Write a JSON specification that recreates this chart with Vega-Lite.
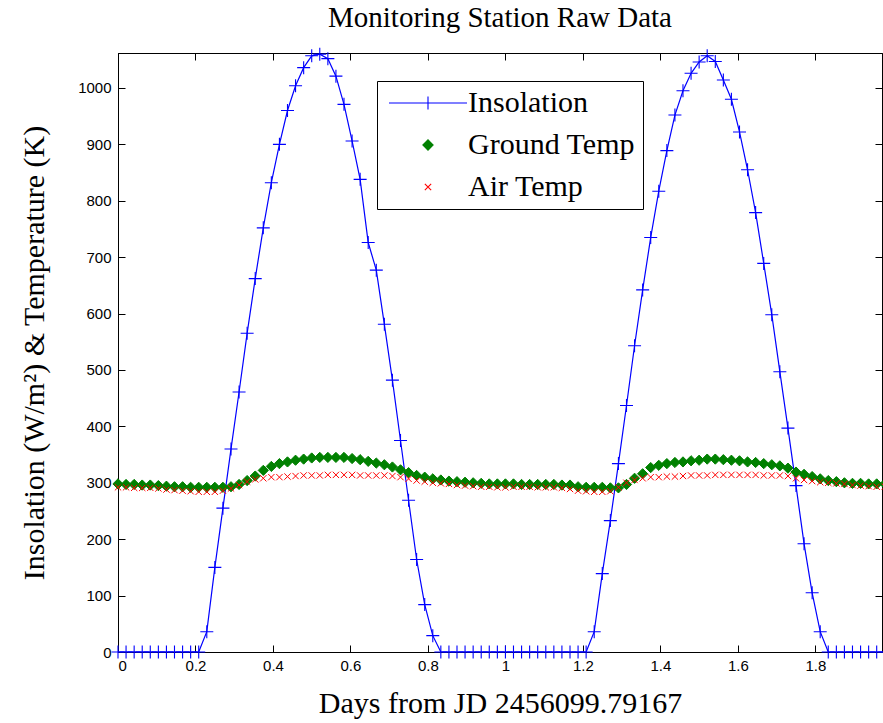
{
  "$schema": "https://vega.github.io/schema/vega-lite/v6.json",
  "width": 764,
  "height": 599,
  "autosize": {"type": "none"},
  "padding": {"left": 118, "top": 53, "right": 1, "bottom": 71},
  "background": "white",
  "title": {
    "text": "Monitoring Station Raw Data",
    "font": "Liberation Serif",
    "fontSize": 29,
    "fontWeight": "normal",
    "color": "black",
    "anchor": "middle",
    "baseline": "bottom",
    "offset": -17
  },
  "data": {
    "values": [
      {"t": 0, "Insolation": 0, "Ground Temp": 298, "Air Temp": 292},
      {"t": 0.0208, "Insolation": 0, "Ground Temp": 297, "Air Temp": 292},
      {"t": 0.0417, "Insolation": 0, "Ground Temp": 297, "Air Temp": 291},
      {"t": 0.0625, "Insolation": 0, "Ground Temp": 296, "Air Temp": 291},
      {"t": 0.0833, "Insolation": 0, "Ground Temp": 296, "Air Temp": 291},
      {"t": 0.1042, "Insolation": 0, "Ground Temp": 295, "Air Temp": 290},
      {"t": 0.125, "Insolation": 0, "Ground Temp": 294, "Air Temp": 288},
      {"t": 0.1458, "Insolation": 0, "Ground Temp": 293, "Air Temp": 287},
      {"t": 0.1667, "Insolation": 0, "Ground Temp": 293, "Air Temp": 286},
      {"t": 0.1875, "Insolation": 0, "Ground Temp": 292, "Air Temp": 285},
      {"t": 0.2083, "Insolation": 0, "Ground Temp": 292, "Air Temp": 284},
      {"t": 0.2292, "Insolation": 36, "Ground Temp": 292, "Air Temp": 284},
      {"t": 0.25, "Insolation": 150, "Ground Temp": 292, "Air Temp": 284},
      {"t": 0.2708, "Insolation": 255, "Ground Temp": 292, "Air Temp": 286},
      {"t": 0.2917, "Insolation": 360, "Ground Temp": 293, "Air Temp": 290},
      {"t": 0.3125, "Insolation": 461, "Ground Temp": 297, "Air Temp": 296},
      {"t": 0.3333, "Insolation": 565, "Ground Temp": 304, "Air Temp": 302},
      {"t": 0.3542, "Insolation": 662, "Ground Temp": 312, "Air Temp": 306},
      {"t": 0.375, "Insolation": 752, "Ground Temp": 322, "Air Temp": 308},
      {"t": 0.3958, "Insolation": 832, "Ground Temp": 329, "Air Temp": 310},
      {"t": 0.4167, "Insolation": 900, "Ground Temp": 334, "Air Temp": 310},
      {"t": 0.4375, "Insolation": 960, "Ground Temp": 337, "Air Temp": 311},
      {"t": 0.4583, "Insolation": 1004, "Ground Temp": 340, "Air Temp": 312},
      {"t": 0.4792, "Insolation": 1036, "Ground Temp": 342, "Air Temp": 313},
      {"t": 0.5, "Insolation": 1057, "Ground Temp": 344, "Air Temp": 313},
      {"t": 0.5208, "Insolation": 1060, "Ground Temp": 345, "Air Temp": 313},
      {"t": 0.5417, "Insolation": 1052, "Ground Temp": 345, "Air Temp": 314},
      {"t": 0.5625, "Insolation": 1021, "Ground Temp": 345, "Air Temp": 314},
      {"t": 0.5833, "Insolation": 971, "Ground Temp": 345, "Air Temp": 314},
      {"t": 0.6042, "Insolation": 906, "Ground Temp": 343, "Air Temp": 314},
      {"t": 0.625, "Insolation": 838, "Ground Temp": 341, "Air Temp": 313},
      {"t": 0.6458, "Insolation": 726, "Ground Temp": 338, "Air Temp": 313},
      {"t": 0.6667, "Insolation": 677, "Ground Temp": 335, "Air Temp": 313},
      {"t": 0.6875, "Insolation": 581, "Ground Temp": 332, "Air Temp": 313},
      {"t": 0.7083, "Insolation": 482, "Ground Temp": 328, "Air Temp": 312},
      {"t": 0.7292, "Insolation": 375, "Ground Temp": 323, "Air Temp": 310},
      {"t": 0.75, "Insolation": 269, "Ground Temp": 318, "Air Temp": 307},
      {"t": 0.7708, "Insolation": 164, "Ground Temp": 313, "Air Temp": 304},
      {"t": 0.7917, "Insolation": 84, "Ground Temp": 310, "Air Temp": 302},
      {"t": 0.8125, "Insolation": 29, "Ground Temp": 307, "Air Temp": 300},
      {"t": 0.8333, "Insolation": 0, "Ground Temp": 305, "Air Temp": 299},
      {"t": 0.8542, "Insolation": 0, "Ground Temp": 303, "Air Temp": 298},
      {"t": 0.875, "Insolation": 0, "Ground Temp": 302, "Air Temp": 296},
      {"t": 0.8958, "Insolation": 0, "Ground Temp": 301, "Air Temp": 295},
      {"t": 0.9167, "Insolation": 0, "Ground Temp": 300, "Air Temp": 294},
      {"t": 0.9375, "Insolation": 0, "Ground Temp": 299, "Air Temp": 293},
      {"t": 0.9583, "Insolation": 0, "Ground Temp": 298, "Air Temp": 293},
      {"t": 0.9792, "Insolation": 0, "Ground Temp": 298, "Air Temp": 292},
      {"t": 1, "Insolation": 0, "Ground Temp": 298, "Air Temp": 292},
      {"t": 1.0208, "Insolation": 0, "Ground Temp": 298, "Air Temp": 293},
      {"t": 1.0417, "Insolation": 0, "Ground Temp": 297, "Air Temp": 293},
      {"t": 1.0625, "Insolation": 0, "Ground Temp": 297, "Air Temp": 293},
      {"t": 1.0833, "Insolation": 0, "Ground Temp": 297, "Air Temp": 292},
      {"t": 1.1042, "Insolation": 0, "Ground Temp": 297, "Air Temp": 292},
      {"t": 1.125, "Insolation": 0, "Ground Temp": 297, "Air Temp": 292},
      {"t": 1.1458, "Insolation": 0, "Ground Temp": 296, "Air Temp": 291},
      {"t": 1.1667, "Insolation": 0, "Ground Temp": 296, "Air Temp": 289},
      {"t": 1.1875, "Insolation": 0, "Ground Temp": 293, "Air Temp": 286},
      {"t": 1.2083, "Insolation": 0, "Ground Temp": 292, "Air Temp": 285},
      {"t": 1.2292, "Insolation": 36, "Ground Temp": 292, "Air Temp": 284},
      {"t": 1.25, "Insolation": 139, "Ground Temp": 292, "Air Temp": 284},
      {"t": 1.2708, "Insolation": 233, "Ground Temp": 291, "Air Temp": 285},
      {"t": 1.2917, "Insolation": 334, "Ground Temp": 291, "Air Temp": 292},
      {"t": 1.3125, "Insolation": 437, "Ground Temp": 297, "Air Temp": 300},
      {"t": 1.3333, "Insolation": 543, "Ground Temp": 308, "Air Temp": 305},
      {"t": 1.3542, "Insolation": 642, "Ground Temp": 316, "Air Temp": 308},
      {"t": 1.375, "Insolation": 735, "Ground Temp": 327, "Air Temp": 310},
      {"t": 1.3958, "Insolation": 817, "Ground Temp": 331, "Air Temp": 310},
      {"t": 1.4167, "Insolation": 889, "Ground Temp": 334, "Air Temp": 311},
      {"t": 1.4375, "Insolation": 952, "Ground Temp": 336, "Air Temp": 311},
      {"t": 1.4583, "Insolation": 995, "Ground Temp": 337, "Air Temp": 312},
      {"t": 1.4792, "Insolation": 1026, "Ground Temp": 339, "Air Temp": 313},
      {"t": 1.5, "Insolation": 1046, "Ground Temp": 340, "Air Temp": 313},
      {"t": 1.5208, "Insolation": 1057, "Ground Temp": 342, "Air Temp": 313},
      {"t": 1.5417, "Insolation": 1047, "Ground Temp": 342, "Air Temp": 314},
      {"t": 1.5625, "Insolation": 1014, "Ground Temp": 341, "Air Temp": 314},
      {"t": 1.5833, "Insolation": 980, "Ground Temp": 340, "Air Temp": 314},
      {"t": 1.6042, "Insolation": 922, "Ground Temp": 339, "Air Temp": 314},
      {"t": 1.625, "Insolation": 855, "Ground Temp": 337, "Air Temp": 314},
      {"t": 1.6458, "Insolation": 779, "Ground Temp": 336, "Air Temp": 314},
      {"t": 1.6667, "Insolation": 689, "Ground Temp": 334, "Air Temp": 313},
      {"t": 1.6875, "Insolation": 598, "Ground Temp": 332, "Air Temp": 313},
      {"t": 1.7083, "Insolation": 497, "Ground Temp": 330, "Air Temp": 313},
      {"t": 1.7292, "Insolation": 397, "Ground Temp": 326, "Air Temp": 312},
      {"t": 1.75, "Insolation": 295, "Ground Temp": 319, "Air Temp": 308},
      {"t": 1.7708, "Insolation": 192, "Ground Temp": 315, "Air Temp": 305},
      {"t": 1.7917, "Insolation": 105, "Ground Temp": 311, "Air Temp": 303},
      {"t": 1.8125, "Insolation": 36, "Ground Temp": 307, "Air Temp": 301},
      {"t": 1.8333, "Insolation": 0, "Ground Temp": 304, "Air Temp": 300},
      {"t": 1.8542, "Insolation": 0, "Ground Temp": 302, "Air Temp": 299},
      {"t": 1.875, "Insolation": 0, "Ground Temp": 300, "Air Temp": 298},
      {"t": 1.8958, "Insolation": 0, "Ground Temp": 299, "Air Temp": 296},
      {"t": 1.9167, "Insolation": 0, "Ground Temp": 299, "Air Temp": 295},
      {"t": 1.9375, "Insolation": 0, "Ground Temp": 298, "Air Temp": 294},
      {"t": 1.9583, "Insolation": 0, "Ground Temp": 298, "Air Temp": 293},
      {"t": 1.9792, "Insolation": 0, "Ground Temp": 298, "Air Temp": 293}
    ]
  },
  "transform": [
    {"fold": ["Insolation", "Ground Temp", "Air Temp"], "as": ["series", "value"]}
  ],
  "layer": [
    {
      "transform": [{"filter": "datum.series === 'Insolation'"}],
      "mark": {"type": "line", "color": "#0000FF", "strokeWidth": 1.2, "clip": true},
      "encoding": {
        "x": {
          "field": "t", "type": "quantitative",
          "scale": {"domain": [0, 1.972], "nice": false, "zero": false},
          "axis": {
            "orient": "bottom",
            "values": [0, 0.2, 0.4, 0.6, 0.8, 1, 1.2, 1.4, 1.6, 1.8],
            "format": "~g",
            "title": "Days from JD 2456099.79167",
            "labelPadding": 13,
            "titlePadding": 15
          }
        },
        "y": {
          "field": "value", "type": "quantitative",
          "scale": {"domain": [0, 1062], "nice": false},
          "axis": {
            "orient": "left",
            "values": [0, 100, 200, 300, 400, 500, 600, 700, 800, 900, 1000],
            "format": "d",
            "title": "Insolation (W/m²) & Temperature (K)",
            "labelPadding": 14,
            "titlePadding": 28
          }
        }
      }
    },
    {
      "transform": [{"filter": "datum.series === 'Insolation'"}],
      "mark": {"type": "point", "filled": false, "shape": "M-1,0H1M0,-1V1", "size": 169, "color": "#0000FF", "strokeWidth": 1.1, "opacity": 1},
      "encoding": {
        "x": {
          "field": "t", "type": "quantitative",
          "scale": {"domain": [0, 1.972], "nice": false, "zero": false},
          "axis": {
            "orient": "top",
            "values": [0, 0.2, 0.4, 0.6, 0.8, 1, 1.2, 1.4, 1.6, 1.8],
            "labels": false,
            "title": null
          }
        },
        "y": {
          "field": "value", "type": "quantitative",
          "scale": {"domain": [0, 1062], "nice": false},
          "axis": {
            "orient": "right",
            "values": [0, 100, 200, 300, 400, 500, 600, 700, 800, 900, 1000],
            "labels": false,
            "title": null
          }
        }
      }
    },
    {
      "transform": [{"filter": "datum.series !== 'Insolation'"}],
      "mark": {"type": "point", "filled": false, "strokeWidth": 1, "opacity": 1},
      "encoding": {
        "x": {"field": "t", "type": "quantitative", "scale": {"domain": [0, 1.972], "nice": false, "zero": false}, "axis": null},
        "y": {"field": "value", "type": "quantitative", "scale": {"domain": [0, 1062], "nice": false}, "axis": null},
        "color": {
          "field": "series", "type": "nominal",
          "scale": {"domain": ["Insolation", "Ground Temp", "Air Temp"], "range": ["#0000FF", "#008000", "#FF0000"]},
          "legend": {
            "title": null,
            "orient": "none",
            "legendX": 259,
            "legendY": 28,
            "direction": "vertical",
            "strokeColor": "black",
            "fillColor": "white",
            "padding": 7,
            "labelFont": "Liberation Serif",
            "labelFontSize": 30,
            "labelColor": "black",
            "labelLimit": 400,
            "symbolSize": 169,
            "symbolOffset": 29,
            "labelOffset": 25,
            "rowPadding": 12,
            "symbolStrokeWidth": 1.1,
            "encode": {
              "symbols": {
                "update": {
                  "shape": [
                    {"test": "datum.value === 'Insolation'", "value": "M-6,0H6M0,-1V1"},
                    {"test": "datum.value === 'Ground Temp'", "value": "diamond"},
                    {"value": "M-1,-1L1,1M-1,1L1,-1"}
                  ],
                  "size": [
                    {"test": "datum.value === 'Insolation'", "value": 169},
                    {"test": "datum.value === 'Ground Temp'", "value": 40},
                    {"value": 40}
                  ],
                  "fill": [
                    {"test": "datum.value === 'Ground Temp'", "value": "#008000"},
                    {"value": "transparent"}
                  ]
                }
              }
            }
          }
        },
        "shape": {
          "field": "series", "type": "nominal",
          "scale": {"domain": ["Insolation", "Ground Temp", "Air Temp"], "range": ["M-6,0H6M0,-1V1", "diamond", "M-1,-1L1,1M-1,1L1,-1"]},
          "legend": null
        },
        "size": {
          "field": "series", "type": "nominal",
          "scale": {"domain": ["Insolation", "Ground Temp", "Air Temp"], "range": [169, 40, 40]},
          "legend": null
        },
        "fill": {
          "field": "series", "type": "nominal",
          "scale": {"domain": ["Insolation", "Ground Temp", "Air Temp"], "range": ["transparent", "#008000", "transparent"]},
          "legend": null
        }
      }
    }
  ],
  "resolve": {"axis": {"x": "independent", "y": "independent"}},
  "config": {
    "view": {"stroke": "black", "strokeWidth": 1},
    "axis": {
      "labelFont": "Liberation Sans",
      "labelFontSize": 15,
      "labelColor": "black",
      "titleFont": "Liberation Serif",
      "titleFontSize": 30,
      "titleFontWeight": "normal",
      "titleColor": "black",
      "domainColor": "black",
      "tickColor": "black",
      "tickSize": -7,
      "grid": false
    }
  }
}
